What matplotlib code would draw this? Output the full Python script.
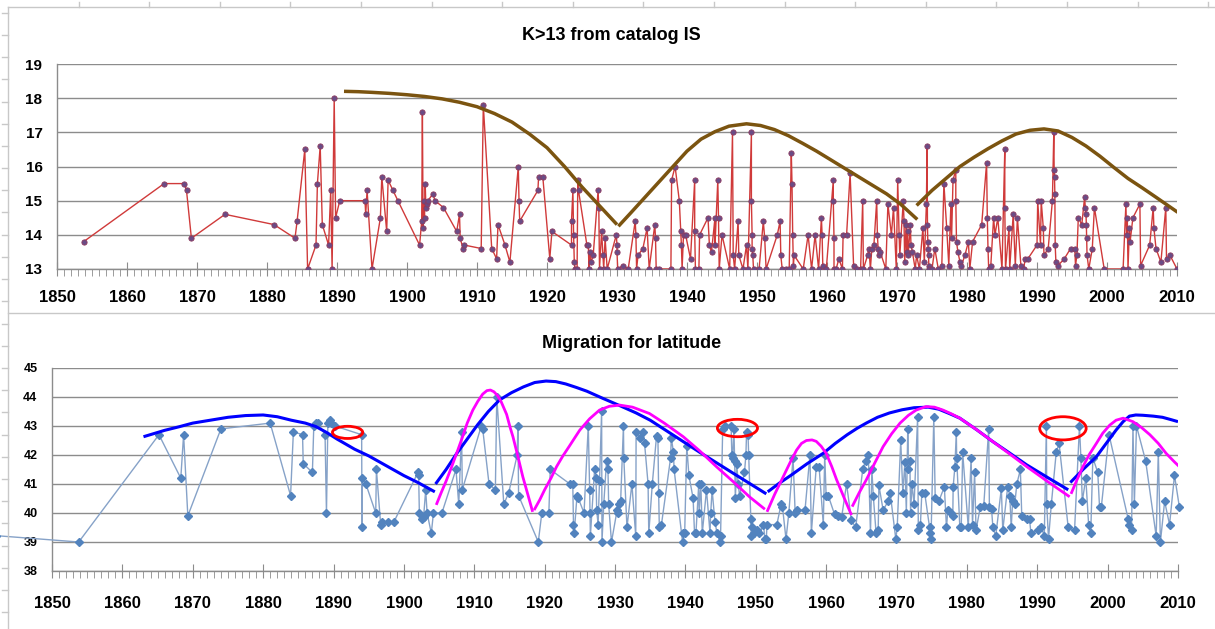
import matplotlib
matplotlib.use("Agg")
import matplotlib.pyplot as plt
from matplotlib.lines import Line2D
from matplotlib.patches import Ellipse
from matplotlib.ticker import MultipleLocator

plt.rcParams['font.family'] = ['Liberation Sans', 'DejaVu Sans']

# ---- top panel: K>13 events (year, K) ----
k_points = [
    (1853.8, 13.8), (1865.3, 15.5), (1868.2, 15.5), (1868.5, 15.3), (1869.2, 13.9), (1874.0, 14.6),
    (1881.0, 14.3), (1884.0, 13.9), (1884.3, 14.4), (1885.4, 16.5), (1885.8, 13.0), (1887.0, 13.7),
    (1887.2, 15.5), (1887.6, 16.6), (1887.9, 14.3), (1888.8, 13.7), (1889.1, 15.3), (1889.3, 13.0),
    (1889.6, 18.0), (1889.8, 14.5), (1890.4, 15.0), (1894.0, 15.0), (1894.1, 14.6), (1894.3, 15.3),
    (1895.0, 13.0), (1896.2, 14.5), (1896.4, 15.7), (1897.1, 14.1), (1897.3, 15.6), (1898.0, 15.3),
    (1898.7, 15.0), (1901.8, 13.7), (1902.1, 14.4), (1902.2, 17.6), (1902.3, 14.2), (1902.4, 15.0),
    (1902.5, 14.5), (1902.6, 15.5), (1902.7, 14.8), (1902.8, 14.9), (1903.0, 15.0), (1903.7, 15.2),
    (1904.0, 15.0), (1905.2, 14.8), (1907.1, 14.1), (1907.5, 14.6), (1907.6, 13.9), (1908.0, 13.6),
    (1908.2, 13.7), (1910.6, 13.6), (1910.9, 17.8), (1912.1, 13.6), (1912.8, 13.3), (1913.0, 14.3),
    (1914.0, 13.7), (1914.7, 13.2), (1915.9, 16.0), (1916.0, 15.0), (1916.1, 14.4), (1918.7, 15.3),
    (1918.8, 15.7), (1919.4, 15.7), (1920.4, 13.3), (1920.7, 14.1), (1923.5, 13.7), (1923.5, 14.4),
    (1923.7, 15.3), (1923.8, 14.0), (1923.9, 13.2), (1924.0, 13.0), (1924.3, 13.0), (1924.4, 15.6),
    (1924.5, 15.3), (1925.7, 13.7), (1925.9, 13.7), (1926.0, 13.0), (1926.1, 13.5), (1926.3, 13.2),
    (1926.6, 13.4), (1927.3, 15.3), (1927.4, 14.8), (1927.5, 13.0), (1927.8, 14.1), (1928.0, 13.4),
    (1928.1, 13.0), (1928.3, 13.9), (1928.6, 13.0), (1929.9, 14.0), (1930.0, 13.7), (1930.0, 13.5),
    (1930.1, 13.0), (1930.8, 13.1), (1931.6, 13.0), (1932.6, 14.4), (1932.7, 14.0), (1932.8, 13.0),
    (1933.0, 13.4), (1933.7, 13.6), (1934.3, 14.2), (1934.6, 13.0), (1935.4, 14.3), (1935.5, 13.9),
    (1935.6, 13.0), (1936.0, 13.0), (1937.7, 13.0), (1937.8, 15.6), (1938.3, 16.0), (1938.9, 15.0),
    (1939.1, 14.1), (1939.2, 13.7), (1939.3, 13.0), (1939.5, 14.0), (1939.8, 14.0), (1940.5, 13.3),
    (1941.1, 15.6), (1941.1, 14.1), (1941.2, 13.0), (1941.7, 13.0), (1941.8, 14.0), (1943.0, 14.5),
    (1943.2, 13.7), (1943.5, 13.5), (1944.0, 14.5), (1944.0, 13.7), (1944.4, 15.6), (1944.5, 14.5),
    (1944.6, 13.0), (1945.0, 14.0), (1946.1, 13.0), (1946.5, 17.0), (1946.6, 13.4), (1946.8, 13.0),
    (1947.3, 14.4), (1947.4, 13.4), (1948.0, 13.0), (1948.5, 13.7), (1948.7, 13.0), (1949.2, 17.0),
    (1949.2, 15.0), (1949.3, 14.0), (1949.3, 13.6), (1949.4, 13.4), (1949.5, 13.0), (1950.3, 13.0),
    (1950.9, 14.4), (1951.1, 13.9), (1951.3, 13.0), (1952.9, 14.0), (1953.3, 14.4), (1953.4, 13.4),
    (1953.6, 13.0), (1954.2, 13.0), (1954.6, 13.0), (1954.9, 16.4), (1955.0, 15.5), (1955.1, 14.0),
    (1955.2, 13.1), (1955.3, 13.4), (1956.6, 13.0), (1957.3, 14.0), (1957.8, 13.0), (1958.3, 14.0),
    (1958.8, 13.0), (1959.2, 14.5), (1959.3, 14.0), (1959.4, 13.1), (1959.9, 13.0), (1960.9, 15.6),
    (1960.9, 15.0), (1961.0, 13.9), (1961.0, 13.0), (1961.3, 13.0), (1961.7, 13.3), (1962.2, 13.0),
    (1962.3, 14.0), (1962.8, 14.0), (1963.3, 15.8), (1963.8, 13.1), (1964.3, 13.0), (1964.8, 13.0),
    (1965.1, 15.0), (1965.2, 13.0), (1965.8, 13.4), (1966.0, 13.6), (1966.2, 13.0), (1966.4, 13.6),
    (1966.7, 13.7), (1967.1, 15.0), (1967.2, 14.0), (1967.3, 13.6), (1967.4, 13.4), (1967.6, 13.5),
    (1968.4, 13.0), (1968.7, 14.9), (1969.2, 14.0), (1969.5, 14.8), (1969.9, 13.0), (1970.1, 15.6),
    (1970.3, 14.0), (1970.4, 13.4), (1970.9, 15.0), (1971.0, 14.4), (1971.1, 13.2), (1971.3, 14.3),
    (1971.4, 13.5), (1971.5, 14.1), (1971.6, 13.4), (1971.9, 14.3), (1972.0, 13.7), (1972.2, 13.5),
    (1972.6, 13.0), (1972.8, 13.4), (1973.2, 13.0), (1973.7, 14.2), (1973.9, 13.2), (1974.2, 14.9),
    (1974.3, 16.6), (1974.35, 14.3), (1974.4, 13.8), (1974.45, 13.6), (1974.5, 13.4), (1974.55, 13.1),
    (1974.6, 13.0), (1975.0, 13.0), (1975.4, 13.6), (1975.9, 13.0), (1976.4, 13.1), (1976.7, 15.5),
    (1977.1, 14.2), (1977.4, 13.1), (1977.7, 14.9), (1977.8, 13.9), (1978.0, 15.6), (1978.4, 15.9),
    (1978.4, 15.0), (1978.5, 13.8), (1978.7, 13.5), (1979.0, 13.2), (1979.2, 13.1), (1979.7, 13.4),
    (1980.2, 13.8), (1980.4, 13.0), (1980.8, 13.8), (1982.1, 14.3), (1982.8, 16.1), (1982.9, 14.5),
    (1983.0, 13.6), (1983.1, 13.0), (1983.4, 13.1), (1983.8, 14.5), (1984.0, 14.0), (1984.4, 14.5),
    (1985.0, 13.0), (1985.4, 16.5), (1985.4, 14.8), (1985.5, 13.0), (1986.0, 14.2), (1986.1, 13.0),
    (1986.6, 14.6), (1986.9, 13.1), (1987.2, 14.5), (1987.7, 13.1), (1988.1, 13.0), (1988.3, 13.3),
    (1988.7, 13.3), (1990.0, 13.7), (1990.1, 15.0), (1990.5, 13.7), (1990.6, 15.0), (1990.9, 14.2),
    (1991.0, 13.4), (1991.6, 13.6), (1992.2, 15.0), (1992.4, 17.0), (1992.45, 15.9), (1992.5, 15.7),
    (1992.55, 15.2), (1992.6, 13.7), (1992.7, 13.2), (1993.0, 13.1), (1993.9, 13.3), (1994.8, 13.6),
    (1995.4, 13.6), (1995.5, 13.1), (1995.7, 13.4), (1995.9, 14.5), (1996.4, 14.3), (1996.8, 15.1),
    (1996.9, 14.8), (1997.0, 14.6), (1997.05, 14.3), (1997.1, 13.9), (1997.15, 13.4), (1997.4, 13.0),
    (1997.9, 13.6), (1998.2, 14.8), (1999.6, 13.0), (2002.3, 13.0), (2002.7, 14.9), (2002.8, 14.0),
    (2002.9, 14.5), (2003.0, 13.0), (2003.2, 14.2), (2003.3, 13.8), (2003.7, 14.5), (2004.7, 14.9),
    (2004.8, 13.1), (2006.1, 13.7), (2006.6, 14.8), (2006.7, 14.2), (2007.0, 13.6), (2007.7, 13.2),
    (2008.4, 14.8), (2008.5, 13.3), (2009.0, 13.4), (2010.0, 13.0),
]

# brown envelope arcs
brown_arc1 = [(1891, 18.2), (1893, 18.19), (1895, 18.17), (1897.5, 18.14), (1900, 18.1),
              (1902.5, 18.05), (1905, 17.98), (1907.5, 17.88), (1910, 17.75), (1912.5, 17.55),
              (1915, 17.3), (1917.5, 16.95), (1920, 16.55), (1922.5, 16.0), (1925, 15.4),
              (1927.5, 14.85), (1930, 14.3)]
brown_arc2 = [(1930.2, 14.25), (1932, 14.65), (1934, 15.1), (1936, 15.55), (1938, 16.0),
              (1940, 16.45), (1942, 16.8), (1944, 17.02), (1946, 17.18), (1948.5, 17.25),
              (1950.5, 17.2), (1952.5, 17.08), (1954.5, 16.9), (1956.5, 16.68), (1958.5, 16.45),
              (1960.5, 16.2), (1962.5, 15.95), (1964.5, 15.7), (1966.5, 15.45), (1968.5, 15.2),
              (1970.5, 14.9), (1972.9, 14.45)]
brown_arc3 = [(1972.8, 14.86), (1975, 15.3), (1977, 15.65), (1979, 16.0), (1981, 16.27),
              (1983, 16.52), (1985, 16.75), (1987, 16.95), (1989, 17.06), (1991, 17.1),
              (1993, 17.04), (1995, 16.85), (1997, 16.6), (1999, 16.3), (2001, 15.97),
              (2003, 15.65), (2005, 15.38), (2007, 15.1), (2010.1, 14.66)]

# ---- bottom panel: latitude (year, degrees) ----
lat_points = [
    (1842.0, 39.22), (1853.8, 39.0), (1865.2, 42.7), (1868.3, 41.2), (1868.7, 42.7), (1869.3, 39.9),
    (1874.0, 42.9), (1881.0, 43.1), (1883.9, 40.6), (1884.3, 42.8), (1885.6, 42.7), (1885.7, 41.7),
    (1887.0, 41.4), (1887.2, 43.0), (1887.5, 43.1), (1887.8, 43.1), (1888.8, 42.7), (1889.0, 40.0),
    (1889.2, 43.1), (1889.5, 43.2), (1889.7, 43.1), (1890.2, 43.0), (1894.0, 42.7), (1894.05, 39.5),
    (1894.1, 41.2), (1894.6, 41.0), (1896.0, 40.0), (1896.1, 41.5), (1896.7, 39.6), (1896.9, 39.7),
    (1897.8, 39.7), (1898.6, 39.7), (1902.0, 41.4), (1902.1, 41.3), (1902.2, 40.0), (1902.6, 39.8),
    (1902.8, 39.85), (1903.1, 40.8), (1903.3, 40.0), (1903.9, 39.3), (1904.2, 40.0), (1905.4, 40.0),
    (1907.4, 41.5), (1907.8, 40.3), (1908.2, 42.8), (1908.3, 40.8), (1911.0, 43.0), (1911.2, 42.9),
    (1912.1, 41.0), (1913.0, 40.8), (1913.2, 44.0), (1914.2, 40.3), (1914.9, 40.7), (1916.1, 42.0),
    (1916.2, 43.0), (1916.3, 40.6), (1919.1, 39.0), (1919.6, 40.0), (1920.6, 40.0), (1920.8, 41.5),
    (1923.6, 41.0), (1924.0, 41.0), (1924.1, 39.6), (1924.2, 39.3), (1924.6, 40.6), (1924.8, 40.5),
    (1925.6, 40.0), (1926.2, 43.0), (1926.4, 40.8), (1926.45, 40.0), (1926.5, 39.2), (1927.1, 41.5),
    (1927.3, 41.2), (1927.4, 40.1), (1927.6, 39.6), (1927.8, 41.1), (1928.1, 43.5), (1928.15, 39.0),
    (1928.4, 40.3), (1928.8, 41.8), (1929.0, 41.5), (1929.1, 40.3), (1929.5, 39.0), (1930.3, 40.1),
    (1930.4, 40.0), (1930.6, 40.3), (1930.8, 40.4), (1931.2, 43.0), (1931.25, 41.9), (1931.7, 39.5),
    (1932.4, 41.0), (1932.95, 39.2), (1933.0, 42.8), (1933.5, 42.6), (1934.0, 42.8), (1934.2, 42.4),
    (1934.7, 41.0), (1934.8, 39.3), (1935.3, 41.0), (1935.9, 42.65), (1936.1, 42.6), (1936.2, 40.7),
    (1936.3, 39.5), (1936.6, 39.6), (1937.9, 41.9), (1938.0, 42.6), (1938.3, 42.1), (1938.4, 41.5),
    (1939.6, 39.0), (1939.65, 39.3), (1939.9, 39.3), (1940.2, 42.3), (1940.5, 41.3), (1941.1, 40.5),
    (1941.3, 39.3), (1941.5, 39.3), (1941.9, 41.0), (1941.95, 40.0), (1942.2, 41.0), (1942.4, 39.3),
    (1943.0, 40.8), (1943.5, 39.3), (1943.6, 40.0), (1943.8, 40.8), (1944.2, 39.7), (1944.5, 39.3),
    (1944.9, 39.0), (1945.0, 39.2), (1945.3, 42.9), (1945.6, 43.0), (1946.5, 43.0), (1946.6, 42.0),
    (1946.7, 41.9), (1946.9, 42.9), (1947.0, 41.8), (1947.1, 40.5), (1947.3, 41.7), (1947.5, 41.0),
    (1947.7, 40.6), (1948.4, 41.4), (1948.6, 42.0), (1948.7, 42.8), (1948.9, 42.7), (1949.0, 42.0),
    (1949.3, 39.8), (1949.35, 39.2), (1949.5, 39.5), (1949.8, 39.3), (1950.2, 39.4), (1950.5, 39.3),
    (1951.1, 39.6), (1951.3, 39.1), (1951.5, 39.1), (1951.6, 39.6), (1953.0, 39.6), (1953.6, 40.3),
    (1953.8, 40.2), (1954.3, 39.1), (1954.7, 40.0), (1955.3, 41.9), (1955.6, 40.0), (1955.8, 40.1),
    (1957.0, 40.1), (1957.7, 42.0), (1957.9, 39.3), (1958.6, 41.6), (1959.0, 41.6), (1959.6, 39.6),
    (1959.8, 42.0), (1960.0, 40.6), (1960.3, 40.6), (1961.2, 39.95), (1961.7, 39.9), (1962.2, 39.85),
    (1962.9, 41.0), (1963.6, 39.75), (1964.2, 39.5), (1965.2, 41.5), (1965.6, 41.8), (1966.0, 42.0),
    (1966.3, 39.3), (1966.5, 41.5), (1966.7, 40.6), (1967.1, 39.3), (1967.4, 39.4), (1967.5, 40.95),
    (1968.1, 40.1), (1968.8, 40.4), (1969.1, 40.7), (1969.9, 39.1), (1970.1, 39.5), (1970.6, 42.5),
    (1970.9, 40.7), (1971.2, 41.77), (1971.4, 40.0), (1971.6, 42.9), (1971.7, 41.5), (1971.9, 41.8),
    (1972.0, 40.0), (1972.2, 41.0), (1972.5, 40.3), (1973.0, 43.3), (1973.1, 39.4), (1973.4, 39.6),
    (1973.6, 40.7), (1974.0, 40.7), (1974.7, 39.5), (1974.8, 39.3), (1974.9, 39.1), (1975.3, 43.3),
    (1975.5, 40.5), (1976.0, 40.4), (1976.8, 40.9), (1977.1, 39.5), (1977.3, 40.1), (1977.7, 40.0),
    (1978.0, 39.9), (1978.05, 40.9), (1978.3, 41.6), (1978.5, 42.8), (1978.55, 41.9), (1979.0, 39.5),
    (1979.2, 39.5), (1979.4, 42.1), (1980.2, 39.5), (1980.6, 41.9), (1980.8, 39.6), (1981.1, 41.4),
    (1981.3, 39.4), (1981.9, 40.2), (1982.4, 40.25), (1983.1, 42.9), (1983.2, 40.2), (1983.5, 40.15),
    (1983.7, 39.5), (1984.1, 39.2), (1984.9, 40.85), (1985.1, 39.4), (1985.8, 40.9), (1986.1, 40.6),
    (1986.3, 39.5), (1986.5, 40.4), (1986.8, 40.3), (1987.1, 41.0), (1987.6, 41.5), (1987.8, 39.9),
    (1988.5, 39.8), (1988.9, 39.8), (1989.1, 39.3), (1990.1, 39.4), (1990.6, 39.5), (1991.0, 39.2),
    (1991.3, 43.0), (1991.35, 40.3), (1991.6, 39.1), (1992.0, 40.3), (1992.7, 42.1), (1993.1, 42.4),
    (1994.4, 39.5), (1995.3, 39.4), (1996.0, 43.0), (1996.2, 41.9), (1996.4, 40.4), (1996.9, 41.2),
    (1997.3, 39.6), (1997.6, 39.3), (1997.9, 41.9), (1998.6, 41.4), (1998.85, 40.2), (1999.1, 40.2),
    (2000.2, 42.7), (2002.9, 39.8), (2003.1, 39.6), (2003.4, 39.4), (2003.6, 43.0), (2003.8, 40.3),
    (2004.1, 43.0), (2005.4, 41.8), (2006.9, 39.2), (2007.2, 42.1), (2007.5, 39.0), (2008.1, 40.4),
    (2008.8, 39.6), (2009.5, 41.3), (2010.2, 40.2),
]

blue_arcs = [
    [(1863, 42.63), (1866, 42.85), (1868, 42.97), (1870, 43.1), (1872.5, 43.2), (1875, 43.3),
     (1877.5, 43.36), (1880, 43.38), (1882, 43.32), (1884, 43.2), (1886, 43.1), (1887.5, 42.98),
     (1889, 42.78), (1890.5, 42.55), (1893, 42.2), (1895, 41.97), (1897.5, 41.63), (1900, 41.29),
     (1902, 41.05), (1904.4, 40.73)],
    [(1904.5, 41.0), (1906, 41.5), (1907.5, 42.05), (1909, 42.55), (1910.5, 43.05), (1912, 43.5),
     (1913.6, 43.9), (1915.3, 44.15), (1917, 44.35), (1918.6, 44.5), (1920.2, 44.55), (1921.6, 44.53),
     (1923, 44.45), (1924.5, 44.33), (1926, 44.2), (1928.3, 43.95), (1930.7, 43.7), (1933, 43.45),
     (1935, 43.2), (1938.5, 42.65), (1942, 42.1), (1946.8, 41.37), (1951.5, 40.66)],
    [(1951.7, 40.73), (1953.3, 41.02), (1955, 41.3), (1957.3, 41.7), (1959.6, 42.06), (1961.3, 42.4),
     (1963, 42.7), (1964.4, 42.92), (1965.7, 43.1), (1967.3, 43.3), (1969, 43.45), (1970.8, 43.56),
     (1972.5, 43.63), (1974.5, 43.65), (1976, 43.58), (1977.5, 43.43), (1979, 43.27), (1981.4, 42.87),
     (1983.7, 42.46), (1986, 42.08), (1988.5, 41.66), (1991.5, 41.22), (1994.4, 40.8)],
    [(1994.7, 41.05), (1996.5, 41.5), (1998.4, 41.94), (1999.8, 42.4), (2001.2, 42.86), (2002.2, 43.15),
     (2003.1, 43.34), (2004, 43.38), (2005, 43.37), (2006.5, 43.34), (2007.8, 43.3), (2009, 43.22),
     (2010, 43.15)],
]

magenta_arcs = [
    [(1904.6, 40.28), (1905.3, 40.7), (1906, 41.1), (1906.8, 41.6), (1907.5, 42.06), (1908.3, 42.6),
     (1909, 43.1), (1909.8, 43.55), (1910.5, 43.85), (1911.2, 44.1), (1911.8, 44.22), (1912.3, 44.24),
     (1912.8, 44.18), (1913.3, 44.05), (1913.8, 43.85), (1914.6, 43.4), (1915.1, 42.95), (1915.5, 42.63),
     (1916.2, 41.95), (1916.9, 41.25), (1917.6, 40.65), (1918.3, 40.04)],
    [(1918.5, 40.1), (1919.3, 40.45), (1920, 40.8), (1920.9, 41.2), (1921.7, 41.6), (1922.6, 41.97),
     (1923.5, 42.3), (1924.3, 42.6), (1925, 42.86), (1926.4, 43.25), (1927.8, 43.55), (1929.2, 43.68),
     (1930.7, 43.72), (1932.5, 43.65), (1934.9, 43.43), (1937, 43.1), (1939.7, 42.63), (1942, 42.15),
     (1944.4, 41.6), (1946.8, 41.08), (1949.1, 40.56), (1951.3, 40.13)],
    [(1951.6, 40.04), (1952.7, 40.65), (1953.9, 41.25), (1954.9, 41.75), (1955.8, 42.17), (1956.5, 42.4),
     (1957.2, 42.5), (1958, 42.52), (1958.6, 42.47), (1959.3, 42.3), (1960, 42.06), (1960.8, 41.6),
     (1961.5, 41.14), (1962.6, 40.5), (1963.6, 39.93)],
    [(1963.7, 40.22), (1964.7, 40.7), (1965.7, 41.14), (1966.9, 41.72), (1968.1, 42.29), (1969.3, 42.73),
     (1970.5, 43.1), (1971.7, 43.37), (1972.8, 43.55), (1974.2, 43.67), (1975.4, 43.65), (1976.6, 43.55),
     (1977.8, 43.42), (1979, 43.27), (1981.4, 42.87), (1983.7, 42.46), (1986, 42.05), (1988.5, 41.6),
     (1991.5, 41.08), (1994.6, 40.56)],
    [(1994.8, 40.66), (1995.6, 41.12), (1996.5, 41.6), (1997.4, 42.02), (1998.4, 42.4), (1999.3, 42.75),
     (2000.3, 43.03), (2001.2, 43.2), (2002.2, 43.27), (2003.6, 43.15), (2004.8, 42.95), (2006, 42.7),
     (2007.2, 42.4), (2008.3, 42.06), (2009.5, 41.76), (2010.7, 41.48)],
]

# red ellipses: (center year, center lat, width in years, height in degrees)
red_marks = [(1892.0, 42.78, 4.3, 0.42), (1947.4, 42.93, 5.7, 0.6), (1993.65, 42.92, 6.6, 0.8)]

GRID = '#8C8C8C'


def style_axis(ax, ymin, ymax, ylab_size, xpad):
    ax.set_xlim(1850, 2010)
    ax.set_ylim(ymin, ymax)
    ax.set_yticks(range(ymin, ymax + 1))
    ax.xaxis.set_major_locator(MultipleLocator(10))
    ax.xaxis.set_minor_locator(MultipleLocator(1))
    ax.grid(axis='y', color=GRID, lw=1)
    ax.set_axisbelow(True)
    for s in ('top', 'right'):
        ax.spines[s].set_visible(False)
    for s in ('left', 'bottom'):
        ax.spines[s].set_color(GRID)
        ax.spines[s].set_linewidth(1)
    ax.tick_params(axis='x', which='major', direction='inout', length=10, color=GRID,
                   pad=xpad, labelsize=12)
    ax.tick_params(axis='x', which='minor', direction='out', length=5, color=GRID)
    ax.tick_params(axis='y', length=0, pad=10.5, labelsize=ylab_size)
    for lab in ax.get_xticklabels() + ax.get_yticklabels():
        lab.set_fontweight('bold')


def draw_arcs(ax, arcs, color, lw, z):
    for arc in arcs:
        ax.plot([p[0] for p in arc], [p[1] for p in arc], color=color, lw=lw, zorder=z,
                solid_joinstyle='round', solid_capstyle='butt')


fig = plt.figure(figsize=(12.15, 6.29), dpi=100)

# top panel
ax1 = fig.add_axes([57 / 1215, 1 - 269 / 629, 1120 / 1215, 205 / 629])
style_axis(ax1, 13, 19, 11, 10)
ky = [p[0] for p in k_points]
kv = [p[1] for p in k_points]
ax1.plot(ky, kv, color='#D03A3A', lw=1, marker='o', ms=3.8,
         mfc='#6A4C86', mec='#8E3A5E', mew=0.6, zorder=3)
draw_arcs(ax1, [brown_arc1, brown_arc2, brown_arc3], '#7B5410', 2.5, 4)
fig.text(611 / 1215, 1 - 35 / 629, 'K>13 from catalog IS', ha='center', va='center',
         fontsize=13, fontweight='bold')

# bottom panel
ax2 = fig.add_axes([52 / 1215, 1 - 571 / 629, 1126 / 1215, 203 / 629])
style_axis(ax2, 38, 45, 9, 13)
ly = [p[0] for p in lat_points]
lv = [p[1] for p in lat_points]
ax2.plot(ly, lv, color='#86A2C8', lw=1, marker='D', ms=3.6,
         mfc='#5283BE', mec='#5283BE', zorder=3, clip_on=False)
draw_arcs(ax2, blue_arcs, '#0000FF', 2.2, 4)
draw_arcs(ax2, magenta_arcs, '#FF00FF', 2.0, 5)
for cx, cy, w, h in red_marks:
    ax2.add_patch(Ellipse((cx, cy), w, h, fill=False, edgecolor='#FF0000', lw=2, zorder=6))
fig.text(632 / 1215, 1 - 343 / 629, 'Migration for latitude', ha='center', va='center',
         fontsize=13, fontweight='bold')

# sheet frame around the charts
FRAME = '#C8C8C8'
W, H = 1215.0, 629.0
fig.add_artist(Line2D([8 / W, 8 / W], [1 - 7 / H, 0], color=FRAME, lw=1))
fig.add_artist(Line2D([8 / W, 1], [1 - 7 / H, 1 - 7 / H], color=FRAME, lw=1))
fig.add_artist(Line2D([8 / W, 1], [1 - 313 / H, 1 - 313 / H], color=FRAME, lw=1))
for i in range(1, 18):
    x = (8 + 70.6 * i) / W
    fig.add_artist(Line2D([x, x], [1 - 7 / H, 1 - 2 / H], color=FRAME, lw=1))
for i in range(28):
    y = 1 - (12.7 + 22.2 * i) / H
    fig.add_artist(Line2D([2 / W, 8 / W], [y, y], color=FRAME, lw=1))

fig.savefig('out.png', dpi=100)
